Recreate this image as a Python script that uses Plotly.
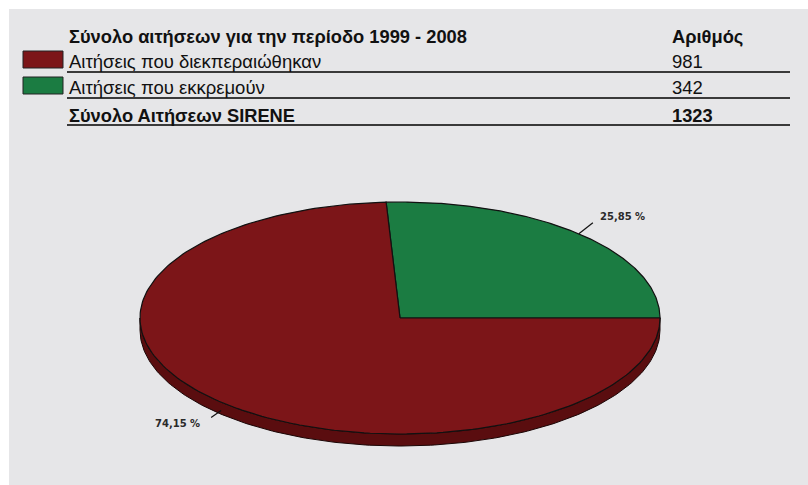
import numpy as np
import plotly.graph_objects as go

# ---- data ----
header_title = "Σύνολο αιτήσεων για την περίοδο 1999 - 2008"
header_count = "Αριθμός"
categories = ["Αιτήσεις που διεκπεραιώθηκαν", "Αιτήσεις που εκκρεμούν"]
values = [981, 342]
total_label = "Σύνολο Αιτήσεων SIRENE"
colors = ["#7c1518", "#1b7c42"]
side_colors = ["#5a0d0f", "#125a2f"]

W, H = 808, 485
total = sum(values)

fig = go.Figure()

# pie geometry (style)
cx, cy, a, b, depth = 400, 318, 260, 116, 12
# slice order: second category starts at 0 deg going counter-clockwise, then first
order = [1, 0]
start = 0.0
angles = {}
for i in order:
    span = 360.0 * values[i] / total
    angles[i] = (start, start + span)
    start += span

def arc(t0, t1, n=200, dy=0.0):
    t = np.radians(np.linspace(t0, t1, n))
    return cx + a * np.cos(t), cy - b * np.sin(t) + dy

# sides (front half: 180..360)
for i in order:
    t0, t1 = angles[i]
    lo, hi = max(t0, 180), min(t1, 360)
    if hi > lo:
        x1, y1 = arc(lo, hi)
        x2, y2 = arc(hi, lo, dy=depth)
        fig.add_trace(go.Scatter(x=np.concatenate([x1, x2, x1[:1]]), y=np.concatenate([y1, y2, y1[:1]]),
                                 mode="lines", fill="toself", fillcolor=side_colors[i],
                                 line=dict(color="#1a0505", width=1), hoverinfo="skip", showlegend=False))

# top faces
for i in order:
    t0, t1 = angles[i]
    xs, ys = arc(t0, t1)
    fig.add_trace(go.Scatter(x=np.concatenate([[cx], xs, [cx]]), y=np.concatenate([[cy], ys, [cy]]),
                             mode="lines", fill="toself", fillcolor=colors[i],
                             line=dict(color="#111111", width=1.2), hoverinfo="skip", showlegend=False,
                             name=categories[i]))

# percent labels with leader lines (offsets are layout)
leader = {1: (14, -11), 0: (-10, 7)}
label_pos = {1: (30, -6), 0: (-34, 6)}
for i in order:
    t0, t1 = angles[i]
    mid = np.radians((t0 + t1) / 2)
    px, py = cx + a * np.cos(mid), cy - b * np.sin(mid)
    if np.sin(mid) < 0:
        py += depth * 0.7
    dx1, dy1 = leader[i]
    fig.add_trace(go.Scatter(x=[px, px + dx1], y=[py, py + dy1], mode="lines",
                             line=dict(color="#111111", width=1.2), hoverinfo="skip", showlegend=False))
    pct = f"{100 * values[i] / total:.2f}".replace(".", ",") + " %"
    lx, ly = label_pos[i]
    fig.add_annotation(x=px + dx1 + lx, y=py + dy1 + ly,
                       text=f"<b>{pct}</b>", showarrow=False, xanchor="center", yanchor="middle",
                       font=dict(family="DejaVu Sans", size=10, color="#2a2a2a"))

# table
font_reg = dict(family="Liberation Sans", size=18.5, color="#111111")
font_bold = dict(family="Liberation Sans", size=18.3, color="#111111")
tx, nx = 67, 670
row_y = [61, 87, 115]
line_y = [72, 98, 125]
fig.add_annotation(x=tx, y=36, text=f"<b>{header_title}</b>", showarrow=False, xanchor="left", yanchor="middle", font=font_bold)
fig.add_annotation(x=nx, y=36, text=f"<b>{header_count}</b>", showarrow=False, xanchor="left", yanchor="middle", font=font_bold)
for k, (name, val) in enumerate(zip(categories, values)):
    fig.add_annotation(x=tx, y=row_y[k], text=name, showarrow=False, xanchor="left", yanchor="middle", font=font_reg)
    fig.add_annotation(x=nx, y=row_y[k], text=str(val), showarrow=False, xanchor="left", yanchor="middle", font=font_reg)
fig.add_annotation(x=tx, y=row_y[2], text=f"<b>{total_label}</b>", showarrow=False, xanchor="left", yanchor="middle", font=font_bold)
fig.add_annotation(x=nx, y=row_y[2], text=f"<b>{total}</b>", showarrow=False, xanchor="left", yanchor="middle", font=font_bold)

shapes = [dict(type="rect", xref="x", yref="y", x0=9, y0=9, x1=W, y1=H, fillcolor="#e6e6e8",
               line=dict(width=0), layer="below")]
for ly in line_y:
    shapes.append(dict(type="line", xref="x", yref="y", x0=tx, x1=790, y0=ly, y1=ly,
                       line=dict(color="#3a3a3a", width=2)))
swatch_y = [(51, 68), (77, 94)]
for k in range(2):
    shapes.append(dict(type="rect", xref="x", yref="y", x0=23, x1=63, y0=swatch_y[k][0], y1=swatch_y[k][1],
                       fillcolor=colors[k], line=dict(color="#222222", width=1)))

fig.update_layout(
    width=W, height=H, margin=dict(l=0, r=0, t=0, b=0),
    paper_bgcolor="white", plot_bgcolor="rgba(0,0,0,0)",
    xaxis=dict(range=[0, W], visible=False, fixedrange=True),
    yaxis=dict(range=[H, 0], visible=False, fixedrange=True),
    shapes=shapes, showlegend=False,
)
fig.write_html("out.html", config={"displayModeBar": False},
               post_script="document.body.style.margin='0';")
